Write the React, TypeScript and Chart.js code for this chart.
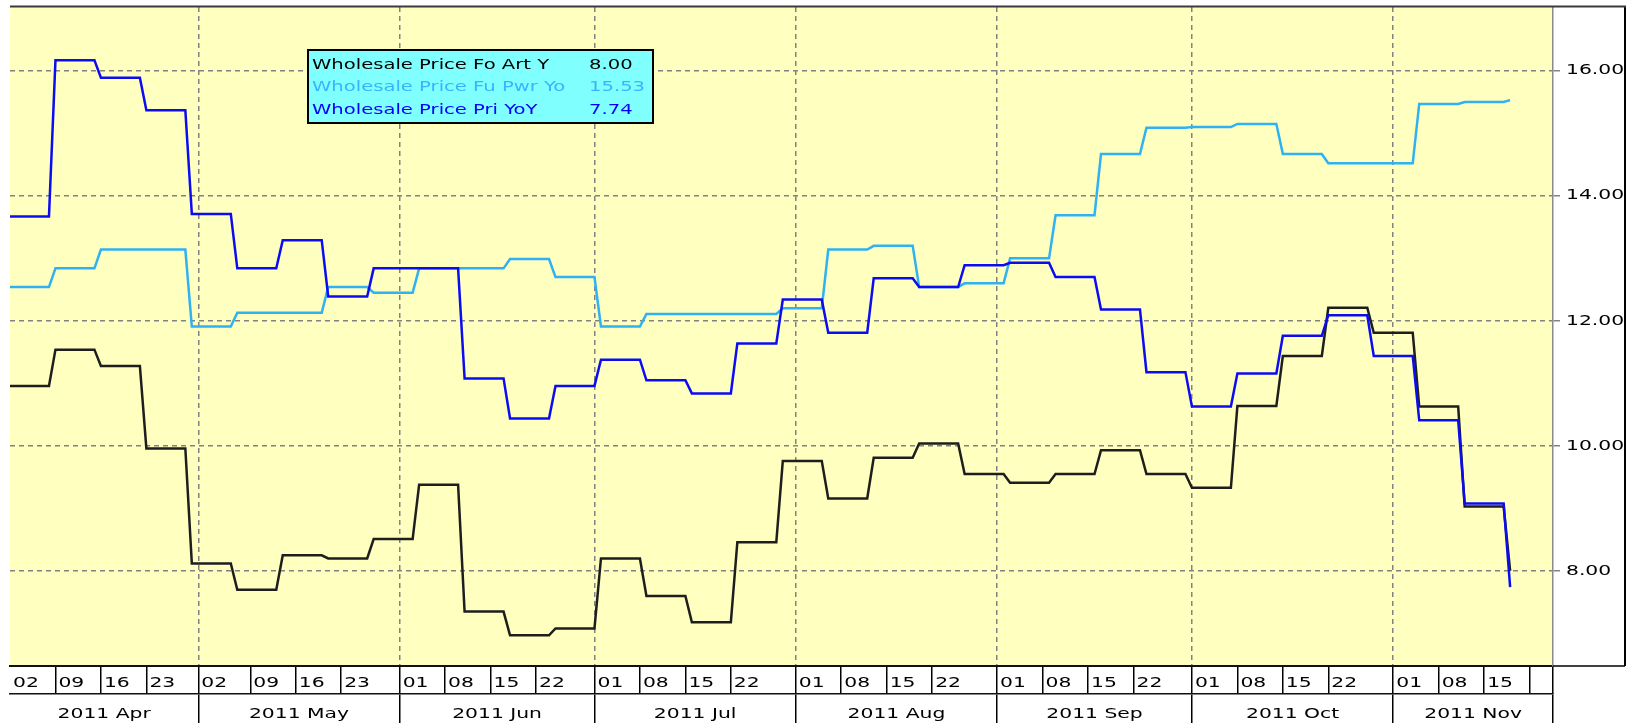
import React, { useEffect, useRef } from 'react';
import { Chart, registerables } from 'chart.js';

Chart.register(...registerables);

// ---------------- data ----------------
const WEEK_DATES = [
  '2011-04-02', '2011-04-09', '2011-04-16', '2011-04-23', '2011-04-30',
  '2011-05-07', '2011-05-14', '2011-05-21', '2011-05-28', '2011-06-04',
  '2011-06-11', '2011-06-18', '2011-06-25', '2011-07-02', '2011-07-09',
  '2011-07-16', '2011-07-23', '2011-07-30', '2011-08-06', '2011-08-13',
  '2011-08-20', '2011-08-27', '2011-09-03', '2011-09-10', '2011-09-17',
  '2011-09-24', '2011-10-01', '2011-10-08', '2011-10-15', '2011-10-22',
  '2011-10-29', '2011-11-05', '2011-11-12', '2011-11-19',
];

const FOOD_ARTICLES_YOY = [
  10.96, 11.54, 11.28, 9.96, 8.12, 7.70, 8.25, 8.20, 8.51, 9.38,
  7.35, 6.97, 7.08, 8.20, 7.60, 7.18, 8.46, 9.76, 9.16, 9.81,
  10.04, 9.55, 9.41, 9.55, 9.93, 9.55, 9.33, 10.64, 11.44, 12.21,
  11.81, 10.63, 9.03, 8.00,
];

const FUEL_POWER_YOY = [
  12.54, 12.84, 13.14, 13.14, 11.91, 12.13, 12.13, 12.54, 12.45, 12.84,
  12.84, 12.99, 12.70, 11.91, 12.11, 12.11, 12.11, 12.20, 13.14, 13.20,
  12.54, 12.60, 13.00, 13.69, 14.67, 15.09, 15.10, 15.15, 14.67, 14.52,
  14.52, 15.47, 15.50, 15.53,
];

const PRIMARY_ARTICLES_YOY = [
  13.67, 16.17, 15.89, 15.37, 13.71, 12.84, 13.29, 12.39, 12.84, 12.84,
  11.08, 10.44, 10.96, 11.38, 11.05, 10.84, 11.64, 12.34, 11.81, 12.68,
  12.54, 12.89, 12.93, 12.70, 12.18, 11.18, 10.63, 11.16, 11.76, 12.09,
  11.44, 10.41, 9.08, 7.74,
];

const SERIES_LABELS = [
  'Wholesale Price Fo Art Y',
  'Wholesale Price Fu Pwr Yo',
  'Wholesale Price Pri YoY',
];

const Y_TICKS = [8, 10, 12, 14, 16];

const WEEK_TICK_DATES = [
  '2011-04-02', '2011-04-09', '2011-04-16', '2011-04-23',
  '2011-05-01', '2011-05-09', '2011-05-16', '2011-05-23',
  '2011-06-01', '2011-06-08', '2011-06-15', '2011-06-22',
  '2011-07-01', '2011-07-08', '2011-07-15', '2011-07-22',
  '2011-08-01', '2011-08-08', '2011-08-15', '2011-08-22',
  '2011-09-01', '2011-09-08', '2011-09-15', '2011-09-22',
  '2011-10-01', '2011-10-08', '2011-10-15', '2011-10-22',
  '2011-11-01', '2011-11-08', '2011-11-15', '2011-11-22',
];
const WEEK_TICK_LABELS = [
  '02', '09', '16', '23',
  '02', '09', '16', '23',
  '01', '08', '15', '22',
  '01', '08', '15', '22',
  '01', '08', '15', '22',
  '01', '08', '15', '22',
  '01', '08', '15', '22',
  '01', '08', '15', '',
];

const MONTH_BOUNDARY_DATES = [
  '2011-05-01', '2011-06-01', '2011-07-01', '2011-08-01',
  '2011-09-01', '2011-10-01', '2011-11-01',
];
const MONTH_LABELS = [
  '2011 Apr', '2011 May', '2011 Jun', '2011 Jul',
  '2011 Aug', '2011 Sep', '2011 Oct', '2011 Nov',
];

const AXIS_START_DATE = '2011-04-02';
const AXIS_END_DATE = '2011-11-25';

// ---------------- styling ----------------
const PLOT_BG = '#FFFFC0';
const GRID_COLOR = '#828282';
const COLORS = ['#1e1e1e', '#2fb2f2', '#0c0cf2'];
const LEGEND_TEXT_COLORS = ['#000000', '#38b4ff', '#0000ff'];
const FONT_FAMILY = "'DejaVu Sans', 'Liberation Sans', Arial, sans-serif";
const TEXT_STRETCH = 1.45;

// ---------------- helpers ----------------
const dayOfYear = (iso: string) => {
  const [y, m, d] = iso.split('-').map(Number);
  return (Date.UTC(y, m - 1, d) - Date.UTC(y, 0, 1)) / 86400000 + 1;
};

const WEEK_X = WEEK_DATES.map(dayOfYear);
const X_MIN = dayOfYear(AXIS_START_DATE);
const X_MAX = dayOfYear(AXIS_END_DATE) + 0.6;
const WEEK_TICK_X = [...WEEK_TICK_DATES.map(dayOfYear), X_MAX];
const WEEK_TICK_TEXT = [...WEEK_TICK_LABELS, ''];
const MONTH_BOUNDS = [X_MIN, ...MONTH_BOUNDARY_DATES.map(dayOfYear), X_MAX];
const MONTH_CENTERS = MONTH_LABELS.map((_, i) => (MONTH_BOUNDS[i] + MONTH_BOUNDS[i + 1]) / 2);
const MONTH_GRID_X = [...MONTH_BOUNDARY_DATES.map(dayOfYear), X_MAX];

// weekly values are held until the day before the next reading
const holdSteps = (values: number[]) => {
  const pts: { x: number; y: number }[] = [];
  values.forEach((v, i) => {
    pts.push({ x: WEEK_X[i], y: v });
    if (i < values.length - 1) pts.push({ x: WEEK_X[i + 1] - 1, y: v });
  });
  return pts;
};

const SERIES = [FOOD_ARTICLES_YOY, FUEL_POWER_YOY, PRIMARY_ARTICLES_YOY];

const noPad = (s: any) => {
  s.paddingTop = 0;
  s.paddingBottom = 0;
  s.paddingLeft = 0;
  s.paddingRight = 0;
};

// text in the original is a wide bitmap font: stretch glyphs horizontally
const stretchTextPlugin = {
  id: 'stretchText',
  beforeInit(chart: any) {
    const ctx = chart.ctx as any;
    if (ctx.__stretched) return;
    const orig = CanvasRenderingContext2D.prototype.fillText;
    ctx.fillText = function (text: string, x: number, y: number, maxWidth?: number) {
      this.save();
      this.translate(x, y);
      this.scale(TEXT_STRETCH, 1);
      if (maxWidth !== undefined && maxWidth !== null) orig.call(this, text, 0, 0, maxWidth / TEXT_STRETCH);
      else orig.call(this, text, 0, 0);
      this.restore();
    };
    ctx.__stretched = true;
  },
};

const framePlugin = {
  id: 'frame',
  beforeDraw(chart: any) {
    const { ctx, chartArea } = chart;
    const { left, top, right, bottom } = chartArea;
    ctx.save();
    ctx.fillStyle = PLOT_BG;
    ctx.fillRect(left, top, right - left, bottom - top);
    ctx.restore();
  },
  afterDraw(chart: any) {
    const { ctx, chartArea, scales } = chart;
    const panelRight = scales.y.right - 6;
    ctx.save();
    ctx.strokeStyle = '#000000';
    ctx.lineWidth = 2;
    ctx.beginPath();
    ctx.moveTo(panelRight, chartArea.top);
    ctx.lineTo(panelRight, chartArea.bottom);
    ctx.stroke();
    ctx.lineWidth = 1.5;
    ctx.beginPath();
    ctx.moveTo(chartArea.right, chartArea.bottom);
    ctx.lineTo(panelRight, chartArea.bottom);
    ctx.stroke();
    ctx.strokeStyle = '#3a3a3a';
    ctx.lineWidth = 2;
    ctx.beginPath();
    ctx.moveTo(chartArea.left, chartArea.top - 0.5);
    ctx.lineTo(panelRight + 1, chartArea.top - 0.5);
    ctx.stroke();
    ctx.restore();
  },
};

const legendBoxPlugin = {
  id: 'legendBox',
  afterDatasetsDraw(chart: any) {
    const { ctx, chartArea } = chart;
    const x = chartArea.left + 298;
    const y = chartArea.top + 43;
    const w = 345;
    const h = 73;
    ctx.save();
    ctx.fillStyle = '#80FFFF';
    ctx.fillRect(x, y, w, h);
    ctx.strokeStyle = '#000000';
    ctx.lineWidth = 2;
    ctx.strokeRect(x, y, w, h);
    ctx.font = `13.5px ${FONT_FAMILY}`;
    ctx.textBaseline = 'middle';
    ctx.textAlign = 'left';
    SERIES_LABELS.forEach((label, i) => {
      const vals = SERIES[i];
      const ly = y + 15 + i * 22.5;
      ctx.fillStyle = LEGEND_TEXT_COLORS[i];
      ctx.fillText(label, x + 4, ly);
      ctx.fillText(vals[vals.length - 1].toFixed(2), x + 281, ly);
    });
    ctx.restore();
  },
};

export default function App() {
  const canvasRef = useRef<HTMLCanvasElement | null>(null);

  useEffect(() => {
    if (!canvasRef.current) return;
    const chart = new Chart(canvasRef.current, {
      type: 'line',
      data: {
        datasets: SERIES.map((vals, i) => ({
          label: SERIES_LABELS[i],
          data: holdSteps(vals),
          borderColor: COLORS[i],
          backgroundColor: COLORS[i],
          borderWidth: 2.5,
          pointRadius: 0,
          tension: 0,
          fill: false,
          order: 2 - i,
        })),
      },
      options: {
        animation: false,
        responsive: false,
        events: [],
        layout: { autoPadding: false, padding: { left: 10, top: 7, right: 0, bottom: 0 } },
        plugins: { legend: { display: false }, tooltip: { enabled: false } },
        scales: {
          x: {
            type: 'linear',
            axis: 'x',
            position: 'bottom',
            weight: 0,
            min: X_MIN,
            max: X_MAX,
            afterBuildTicks: (s: any) => { s.ticks = WEEK_TICK_X.map((v) => ({ value: v })); },
            afterFit: (s: any) => { s.height = 28; noPad(s); },
            ticks: {
              autoSkip: false,
              maxRotation: 0,
              minRotation: 0,
              align: 'start',
              labelOffset: 3,
              padding: -19,
              color: '#000',
              font: { family: FONT_FAMILY, size: 14 },
              callback: (_v: any, i: number) => WEEK_TICK_TEXT[i],
            },
            grid: {
              display: true,
              drawOnChartArea: false,
              drawTicks: true,
              tickLength: 28,
              lineWidth: 1.5,
              tickWidth: 1.5,
              tickColor: (c: any) => (c.index === 0 ? 'rgba(0,0,0,0)' : '#000'),
            },
            border: { display: true, color: '#111', width: 2 },
          },
          xg: {
            type: 'linear',
            axis: 'x',
            position: 'bottom',
            weight: 1,
            min: X_MIN,
            max: X_MAX,
            afterBuildTicks: (s: any) => { s.ticks = MONTH_GRID_X.map((v) => ({ value: v })); },
            afterFit: (s: any) => { s.height = 0; noPad(s); },
            ticks: { display: false, autoSkip: false, maxRotation: 0 },
            grid: {
              display: true,
              drawOnChartArea: true,
              drawTicks: true,
              tickLength: 29,
              lineWidth: 1.5,
              tickWidth: 1.5,
              color: (c: any) => (c.tick && c.tick.value >= X_MAX ? 'rgba(0,0,0,0)' : GRID_COLOR),
              tickColor: '#000',
            },
            border: { display: true, color: '#111', width: 1.5, dash: [5, 4] },
          },
          xm: {
            type: 'linear',
            axis: 'x',
            position: 'bottom',
            weight: 2,
            min: X_MIN,
            max: X_MAX,
            afterBuildTicks: (s: any) => { s.ticks = MONTH_CENTERS.map((v) => ({ value: v })); },
            afterFit: (s: any) => { s.height = 29; noPad(s); },
            ticks: {
              autoSkip: false,
              maxRotation: 0,
              minRotation: 0,
              padding: 11.5,
              color: '#000',
              font: { family: FONT_FAMILY, size: 14 },
              callback: (_v: any, i: number) => MONTH_LABELS[i],
            },
            grid: { display: false, drawTicks: false, drawOnChartArea: false },
            border: { display: false },
          },
          y: {
            type: 'linear',
            position: 'right',
            min: 6.48,
            max: 17.02,
            afterBuildTicks: (s: any) => { s.ticks = Y_TICKS.map((v) => ({ value: v })); },
            afterFit: (s: any) => { s.width = 78; noPad(s); },
            ticks: {
              padding: 6,
              color: '#000',
              font: { family: FONT_FAMILY, size: 14 },
              callback: (v: any) => Number(v).toFixed(2),
            },
            grid: {
              display: true,
              drawOnChartArea: true,
              drawTicks: true,
              tickLength: 7,
              lineWidth: 1.5,
              tickWidth: 1.5,
              color: GRID_COLOR,
              tickColor: GRID_COLOR,
            },
            border: { display: true, color: '#8a8a8a', width: 1.5, dash: [5, 4] },
          },
        },
      } as any,
      plugins: [stretchTextPlugin, framePlugin, legendBoxPlugin],
    });
    return () => chart.destroy();
  }, []);

  return (
    <div style={{ position: 'absolute', left: 0, top: 0, width: 1631, height: 723 }}>
      <canvas ref={canvasRef} width={1631} height={723} style={{ display: 'block' }} />
    </div>
  );
}
